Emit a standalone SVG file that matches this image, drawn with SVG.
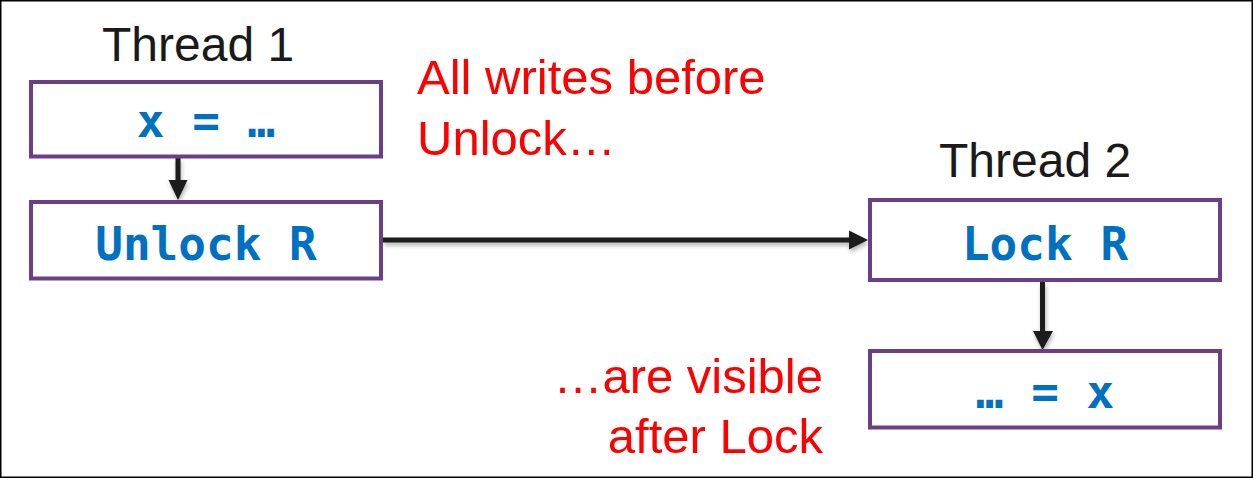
<svg xmlns="http://www.w3.org/2000/svg" width="1253" height="478" viewBox="0 0 1253 478">
<style>
.box{fill:#fff;stroke:#6C3E86;stroke-width:4}
.code{font-family:"DejaVu Sans Mono","Liberation Mono",monospace;font-weight:bold;font-size:46px;fill:#0070C0;text-anchor:middle}
.title{font-family:"Liberation Sans",Arial,sans-serif;font-size:48px;fill:#1a1a1a}
.note{font-family:"Liberation Sans",Arial,sans-serif;font-size:49px;fill:#FF0000}
.conn{stroke:#1a1a1a;stroke-width:5;fill:none}
.head{fill:#1a1a1a}
</style>
<defs>
<filter id="sh" x="-10%" y="-50%" width="120%" height="200%">
<feDropShadow dx="1" dy="3" stdDeviation="2" flood-color="#000" flood-opacity="0.3"/>
</filter>
</defs>
<rect x="0" y="0" width="1253" height="478" fill="#fff"/>
<rect x="0.75" y="0.75" width="1251.5" height="476.5" fill="none" stroke="#000" stroke-width="1.5"/>

<g id="labels">
<text class="title" x="102" y="61">Thread 1</text>
<text class="title" x="939" y="177">Thread 2</text>
<text class="note" x="417" y="94">All writes before</text>
<text class="note" x="417" y="155">Unlock…</text>
<text class="note" x="823" y="393" text-anchor="end">…are visible</text>
<text class="note" x="823" y="453" text-anchor="end">after Lock</text>
</g>

<g id="connectors" filter="url(#sh)">
<line class="conn" x1="178" y1="158" x2="178" y2="182"/>
<polygon class="head" points="168.5,180 187.5,180 178,200"/>
<line class="conn" x1="383" y1="240" x2="851" y2="240"/>
<polygon class="head" points="849,230.5 849,249.5 868,240"/>
<line class="conn" x1="1042.5" y1="282" x2="1042.5" y2="333"/>
<polygon class="head" points="1033,331 1053,331 1042.5,350"/>
</g>

<g id="n1">
<rect class="box" x="31" y="82" width="350" height="74.5"/>
<text class="code" x="206" y="137">x = …</text>
</g>
<g id="n2">
<rect class="box" x="31" y="202" width="350" height="76.5"/>
<text class="code" x="206" y="260">Unlock R</text>
</g>
<g id="n3">
<rect class="box" x="870" y="200" width="350" height="80"/>
<text class="code" x="1045" y="260">Lock R</text>
</g>
<g id="n4">
<rect class="box" x="870" y="351" width="350" height="76.5"/>
<text class="code" x="1045" y="408">… = x</text>
</g>
</svg>
